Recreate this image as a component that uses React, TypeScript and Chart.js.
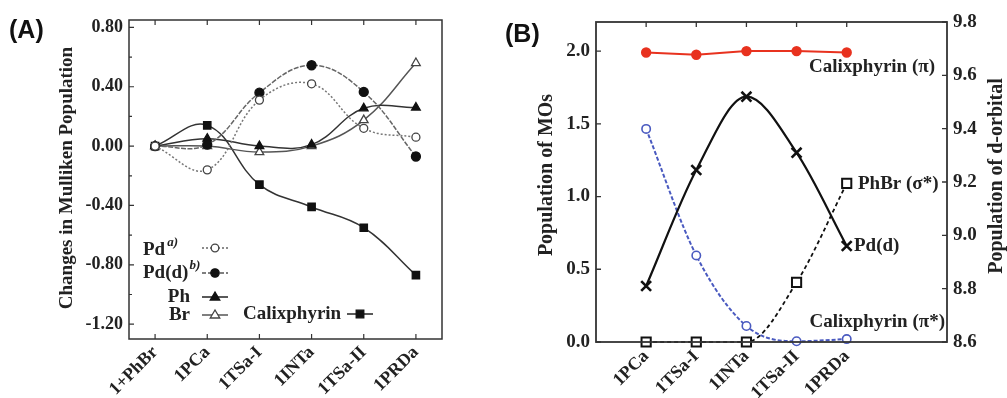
import React, { useEffect, useRef } from 'react';
import { Chart, registerables } from 'chart.js';

Chart.register(...registerables);

// ---------- Panel A data ----------
const categoriesA = ['1+PhBr', '1PCa', '1TSa-I', '1INTa', '1TSa-II', '1PRDa'];
const pdA = [0, -0.16, 0.31, 0.42, 0.12, 0.06];
const pdDA = [0, 0.01, 0.36, 0.545, 0.365, -0.07];
const phA = [0, 0.05, 0.0, 0.01, 0.255, 0.26];
const brA = [0, 0.0, -0.04, 0.0, 0.175, 0.56];
const calixA = [0, 0.14, -0.26, -0.41, -0.55, -0.87];
const yTicksA = [-1.2, -0.8, -0.4, 0, 0.4, 0.8];
const yMinorA = [-1.0, -0.6, -0.2, 0.2, 0.6];

// ---------- Panel B data ----------
const categoriesB = ['1PCa', '1TSa-I', '1INTa', '1TSa-II', '1PRDa'];
const calixPiB = [1.99, 1.975, 2.0, 2.0, 1.99];
const calixPiStarB = [1.465, 0.595, 0.11, 0.005, 0.02];
const phbrSigmaB = [0, 0, 0, 0.41, 1.09];
const pdDB = [8.81, 9.245, 9.52, 9.31, 8.96];
const yTicksBLeft = [0, 0.5, 1.0, 1.5, 2.0];
const yTicksBRight = [8.6, 8.8, 9.0, 9.2, 9.4, 9.6, 9.8];

const SERIF = '"Liberation Serif", "Times New Roman", serif';
const SANS = '"Liberation Sans", Arial, sans-serif';
const INK = '#222';
const AXIS = '#333';

function marker(ctx: CanvasRenderingContext2D, type: string, x: number, y: number, r: number, fill: string, stroke: string) {
  ctx.save();
  ctx.fillStyle = fill;
  ctx.strokeStyle = stroke;
  ctx.lineWidth = 1.3;
  ctx.setLineDash([]);
  ctx.beginPath();
  if (type === 'circle') {
    ctx.arc(x, y, r, 0, Math.PI * 2);
  } else if (type === 'triangle') {
    ctx.moveTo(x, y - r);
    ctx.lineTo(x - r * 0.95, y + r * 0.6);
    ctx.lineTo(x + r * 0.95, y + r * 0.6);
    ctx.closePath();
  } else {
    ctx.rect(x - r, y - r, 2 * r, 2 * r);
  }
  ctx.fill();
  ctx.stroke();
  ctx.restore();
}

function legendLine(ctx: CanvasRenderingContext2D, x1: number, x2: number, y: number, color: string, dash: number[]) {
  ctx.save();
  ctx.strokeStyle = color;
  ctx.lineWidth = 1.5;
  ctx.setLineDash(dash);
  ctx.beginPath();
  ctx.moveTo(x1, y);
  ctx.lineTo(x2, y);
  ctx.stroke();
  ctx.restore();
}

const panelAPlugin = {
  id: 'panelA',
  afterDraw(chart: any) {
    const { ctx, chartArea: a, scales } = chart;
    const x = scales.x;
    const y = scales.y;
    ctx.save();
    ctx.strokeStyle = AXIS;
    ctx.lineWidth = 1.5;
    ctx.strokeRect(a.left, a.top, a.right - a.left, a.bottom - a.top);
    ctx.lineWidth = 1.2;
    ctx.beginPath();
    yTicksA.forEach((v) => {
      const p = y.getPixelForValue(v);
      ctx.moveTo(a.left, p);
      ctx.lineTo(a.left + 5, p);
    });
    yMinorA.forEach((v) => {
      const p = y.getPixelForValue(v);
      ctx.moveTo(a.left, p);
      ctx.lineTo(a.left + 3, p);
    });
    categoriesA.forEach((_c, i) => {
      const p = x.getPixelForValue(i);
      ctx.moveTo(p, a.top);
      ctx.lineTo(p, a.top + 5);
      ctx.moveTo(p, a.bottom);
      ctx.lineTo(p, a.bottom - 5);
    });
    ctx.stroke();

    // panel letter
    ctx.fillStyle = '#111';
    ctx.font = `bold 25px ${SANS}`;
    ctx.textAlign = 'left';
    ctx.textBaseline = 'alphabetic';
    ctx.fillText('(A)', 9, 38);

    // axis title
    ctx.save();
    ctx.fillStyle = INK;
    ctx.font = `bold 19px ${SERIF}`;
    ctx.translate(67, 178);
    ctx.rotate(-Math.PI / 2);
    ctx.textAlign = 'center';
    ctx.textBaseline = 'middle';
    ctx.fillText('Changes in Mulliken Population', 0, 0);
    ctx.restore();

    // legend
    ctx.fillStyle = INK;
    ctx.textBaseline = 'alphabetic';
    const big = `bold 19px ${SERIF}`;
    const sup = `italic bold 13px ${SERIF}`;
    ctx.font = big;
    ctx.textAlign = 'left';
    ctx.fillText('Pd', 143, 255);
    let w = ctx.measureText('Pd').width;
    ctx.font = sup;
    ctx.fillText('a)', 143 + w + 2, 246);
    ctx.font = big;
    ctx.fillText('Pd(d)', 143, 278);
    w = ctx.measureText('Pd(d)').width;
    ctx.font = sup;
    ctx.fillText('b)', 143 + w + 1, 269);
    ctx.font = big;
    ctx.textAlign = 'right';
    ctx.fillText('Ph', 190, 302);
    ctx.fillText('Br', 190, 320);
    ctx.textAlign = 'left';
    ctx.fillText('Calixphyrin', 243, 319);

    legendLine(ctx, 202, 228, 248, '#666', [2, 2]);
    marker(ctx, 'circle', 215, 248, 3.8, '#fff', '#444');
    legendLine(ctx, 202, 228, 273, '#555', [4, 2]);
    marker(ctx, 'circle', 215, 273, 4.2, '#111', '#111');
    legendLine(ctx, 202, 228, 297, '#222', []);
    marker(ctx, 'triangle', 215, 297, 5, '#111', '#111');
    legendLine(ctx, 202, 228, 315, '#555', []);
    marker(ctx, 'triangle', 215, 315, 5, '#fff', '#444');
    legendLine(ctx, 347, 373, 314, '#222', []);
    marker(ctx, 'square', 360, 314, 3.8, '#111', '#111');
    ctx.restore();
  },
};

const panelBPlugin = {
  id: 'panelB',
  afterDraw(chart: any) {
    const { ctx, chartArea: a, scales } = chart;
    const x = scales.x;
    const yl = scales.yL;
    const yr = scales.yR;
    ctx.save();
    ctx.strokeStyle = AXIS;
    ctx.lineWidth = 1.8;
    ctx.strokeRect(a.left, a.top, a.right - a.left, a.bottom - a.top);
    ctx.lineWidth = 1.3;
    ctx.beginPath();
    yTicksBLeft.forEach((v) => {
      const p = yl.getPixelForValue(v);
      ctx.moveTo(a.left, p);
      ctx.lineTo(a.left + 5, p);
    });
    yTicksBRight.forEach((v) => {
      const p = yr.getPixelForValue(v);
      ctx.moveTo(a.right, p);
      ctx.lineTo(a.right - 5, p);
    });
    categoriesB.forEach((_c, i) => {
      const p = x.getPixelForValue(i);
      ctx.moveTo(p, a.top);
      ctx.lineTo(p, a.top + 5);
    });
    ctx.stroke();

    ctx.fillStyle = '#111';
    ctx.font = `bold 25px ${SANS}`;
    ctx.textAlign = 'left';
    ctx.textBaseline = 'alphabetic';
    ctx.fillText('(B)', 5, 42);

    ctx.fillStyle = INK;
    ctx.font = `bold 20px ${SERIF}`;
    ctx.textAlign = 'center';
    ctx.textBaseline = 'middle';
    ctx.save();
    ctx.translate(47, 175);
    ctx.rotate(-Math.PI / 2);
    ctx.fillText('Population of MOs', 0, 0);
    ctx.restore();
    ctx.save();
    ctx.translate(497, 176);
    ctx.rotate(-Math.PI / 2);
    ctx.fillText('Population of d-orbital', 0, 0);
    ctx.restore();

    ctx.font = `bold 19px ${SERIF}`;
    ctx.textBaseline = 'alphabetic';
    ctx.textAlign = 'right';
    ctx.fillText('Calixphyrin (\u03c0)', 435, 72);
    ctx.fillText('Calixphyrin (\u03c0*)', 445, 327);
    ctx.textAlign = 'left';
    ctx.fillText('PhBr (\u03c3*)', 358, 189);
    ctx.fillText('Pd(d)', 354, 251);
    ctx.restore();
  },
};

const hiddenGrid = { display: false, drawTicks: false };

export default function App() {
  const refA = useRef<HTMLCanvasElement | null>(null);
  const refB = useRef<HTMLCanvasElement | null>(null);

  useEffect(() => {
    const tickFontA = { family: SERIF, weight: 'bold' as const, size: 18 };
    const tickFontB = { family: SERIF, weight: 'bold' as const, size: 19 };

    const base = {
      fill: false,
      borderWidth: 1.5,
      tension: 0.4,
      pointRadius: 4,
      pointBorderWidth: 1.3,
    };

    const chartA = new Chart(refA.current as HTMLCanvasElement, {
      type: 'line',
      data: {
        labels: categoriesA,
        datasets: [
          { ...base, label: 'Pd', data: pdA, borderColor: '#777', borderDash: [2, 2], pointStyle: 'circle', pointBackgroundColor: '#fff', pointBorderColor: '#444' },
          { ...base, label: 'Pd(d)', data: pdDA, borderColor: '#666', borderDash: [5, 1.5], pointStyle: 'circle', pointRadius: 4.5, pointBackgroundColor: '#111', pointBorderColor: '#111' },
          { ...base, label: 'Ph', data: phA, borderColor: '#333', pointStyle: 'triangle', pointRadius: 5, pointBackgroundColor: '#111', pointBorderColor: '#111' },
          { ...base, label: 'Br', data: brA, borderColor: '#555', pointStyle: 'triangle', pointRadius: 5, pointBackgroundColor: '#fff', pointBorderColor: '#444' },
          { ...base, label: 'Calixphyrin', data: calixA, borderColor: '#333', pointStyle: 'rect', pointRadius: 5.2, pointBackgroundColor: '#111', pointBorderColor: '#111' },
        ],
      } as any,
      options: {
        responsive: false,
        animation: false,
        events: [],
        layout: { padding: { left: 0, top: 20, right: 58, bottom: 0 } },
        plugins: { legend: { display: false }, tooltip: { enabled: false } },
        scales: {
          x: {
            type: 'category',
            offset: true,
            grid: hiddenGrid,
            border: { display: false },
            ticks: { font: tickFontA, color: INK, minRotation: 45, maxRotation: 45, autoSkip: false, padding: 3 },
            afterFit: (s: any) => { s.height = 59; },
          },
          y: {
            min: -1.3,
            max: 0.85,
            grid: hiddenGrid,
            border: { display: false },
            ticks: { font: tickFontA, color: INK, padding: 6, callback: (v: any) => Number(v).toFixed(2) },
            afterBuildTicks: (s: any) => { s.ticks = yTicksA.map((v) => ({ value: v })); },
            afterFit: (s: any) => { s.width = 129; },
          },
        },
      } as any,
      plugins: [panelAPlugin],
    });

    const pts = (arr: number[]) => arr.map((v, i) => ({ x: i, y: v }));

    const chartB = new Chart(refB.current as HTMLCanvasElement, {
      type: 'line',
      data: {
        datasets: [
          { label: 'Calixphyrin (π)', data: pts(calixPiB), yAxisID: 'yL', clip: false, borderColor: '#e8321f', borderWidth: 2, tension: 0, pointStyle: 'circle', pointRadius: 4.2, pointBackgroundColor: '#e8321f', pointBorderColor: '#e8321f', fill: false },
          { label: 'Pd(d)', data: pts(pdDB), yAxisID: 'yR', clip: false, borderColor: '#111', borderWidth: 2.2, cubicInterpolationMode: 'monotone', pointStyle: 'crossRot', pointRadius: 7, pointBorderWidth: 2.6, pointBorderColor: '#111', fill: false },
          { label: 'PhBr (σ*)', data: pts(phbrSigmaB), yAxisID: 'yL', clip: false, borderColor: '#111', borderWidth: 1.8, borderDash: [4, 3], cubicInterpolationMode: 'monotone', pointStyle: 'rect', pointRadius: 6.5, pointBorderWidth: 2, pointBackgroundColor: '#fff', pointBorderColor: '#111', fill: false },
          { label: 'Calixphyrin (π*)', data: pts(calixPiStarB), yAxisID: 'yL', clip: false, borderColor: '#4a5ac0', borderWidth: 2, borderDash: [4, 2], cubicInterpolationMode: 'monotone', pointStyle: 'circle', pointRadius: 4.2, pointBorderWidth: 1.6, pointBackgroundColor: '#fff', pointBorderColor: '#4a5ac0', fill: false },
        ],
      } as any,
      options: {
        responsive: false,
        animation: false,
        events: [],
        layout: { padding: { left: 0, top: 22, right: 0, bottom: 0 } },
        plugins: { legend: { display: false }, tooltip: { enabled: false } },
        scales: {
          x: {
            type: 'linear',
            min: -1,
            max: 6,
            grid: hiddenGrid,
            border: { display: false },
            ticks: {
              font: { family: SERIF, weight: 'bold', size: 18 },
              color: INK,
              minRotation: 45,
              maxRotation: 45,
              autoSkip: false,
              padding: 4,
              callback: (v: any) => categoriesB[v] ?? '',
            },
            afterBuildTicks: (s: any) => { s.ticks = categoriesB.map((_c, i) => ({ value: i })); },
            afterFit: (s: any) => { s.height = 56; },
          },
          yL: {
            position: 'left',
            min: 0,
            max: 2.2,
            grid: hiddenGrid,
            border: { display: false },
            ticks: { font: tickFontB, color: INK, padding: 6, callback: (v: any) => Number(v).toFixed(1) },
            afterBuildTicks: (s: any) => { s.ticks = yTicksBLeft.map((v) => ({ value: v })); },
            afterFit: (s: any) => { s.width = 96; },
          },
          yR: {
            position: 'right',
            min: 8.6,
            max: 9.8,
            grid: hiddenGrid,
            border: { display: false },
            ticks: { font: tickFontB, color: INK, padding: 6, callback: (v: any) => Number(v).toFixed(1) },
            afterBuildTicks: (s: any) => { s.ticks = yTicksBRight.map((v) => ({ value: v })); },
            afterFit: (s: any) => { s.width = 60; },
          },
        },
      } as any,
      plugins: [panelBPlugin],
    });

    return () => {
      chartA.destroy();
      chartB.destroy();
    };
  }, []);

  return (
    <div style={{ position: 'absolute', left: 0, top: 0, width: 1007, height: 398, background: '#fff', overflow: 'hidden' }}>
      <canvas ref={refA} width={500} height={398} style={{ position: 'absolute', left: 0, top: 0 }} />
      <canvas ref={refB} width={507} height={398} style={{ position: 'absolute', left: 500, top: 0 }} />
    </div>
  );
}
